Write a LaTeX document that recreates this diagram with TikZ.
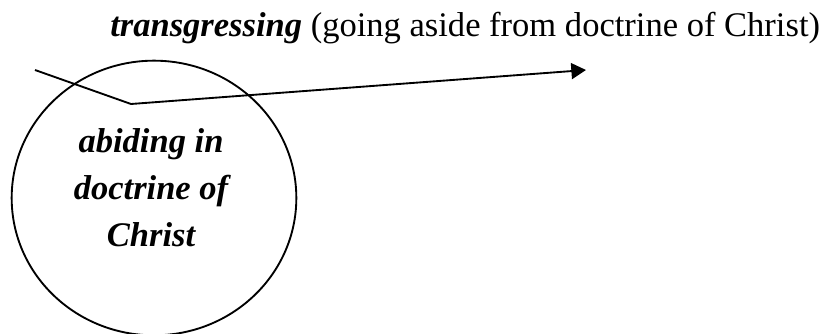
\documentclass[tikz,border=0pt]{standalone}
\usepackage{fontspec}
\setmainfont{Liberation Serif}
\usetikzlibrary{arrows.meta,shapes.geometric}

\begin{document}
\begin{tikzpicture}[x=0.75pt, y=-0.75pt, every node/.style={font=\fontsize{25.9}{35.6}\selectfont, inner sep=0pt}]
\useasboundingbox (0,0) rectangle (827,334);
% Heading
\node[anchor=base west] (head) at (110,37) {\textbf{\textit{transgressing}} (going aside from doctrine of Christ)};

% Circle with its text
\node[draw, ellipse, line width=1.4pt, minimum width=213.5pt, minimum height=206pt] (circ) at (154,198) {};
\node[align=center, font=\fontsize{25.9}{35.6}\selectfont\bfseries\itshape, anchor=base] (inside) at (151,247) {abiding in\\doctrine of\\Christ};

% Line leaving the circle
\coordinate (start) at (35,70);
\coordinate (bend) at (131,104);
\coordinate (tip) at (586,70);
\draw[line width=1.4pt, -{Triangle[length=11pt, width=12pt]}] (start) -- (bend) -- (tip);
\end{tikzpicture}
\end{document}
